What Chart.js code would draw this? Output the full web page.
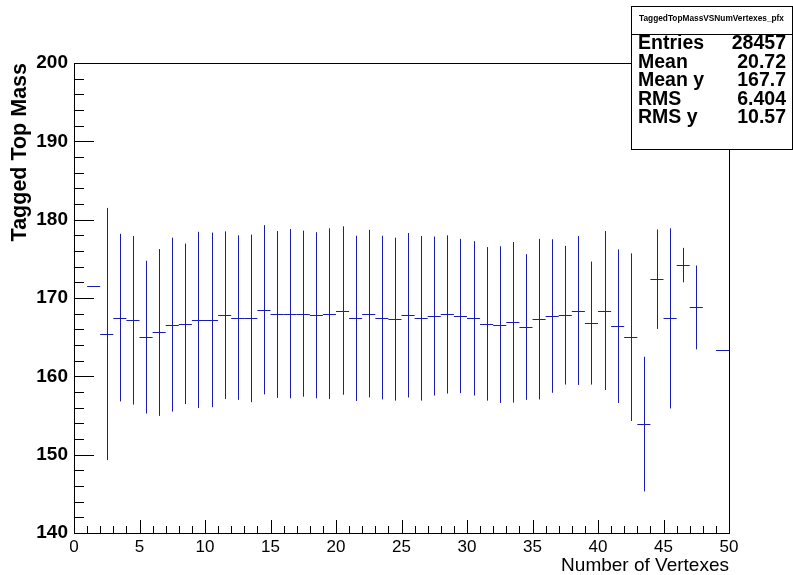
<!DOCTYPE html>
<html>
<head>
<meta charset="utf-8">
<script src="https://cdn.jsdelivr.net/npm/chart.js@4.4.0/dist/chart.umd.min.js"></script>
<style>
  body { margin: 0; background: #fff; }
  #wrap { position: relative; width: 793px; height: 575px; }
</style>
</head>
<body>
<div id="wrap"><canvas id="profChart"></canvas></div>
<script>
// bin centres (number of vertexes), profile means and spreads
const binCenters = [1.5, 2.5, 3.5, 4.5, 5.5, 6.5, 7.5, 8.5, 9.5, 10.5,
    11.5, 12.5, 13.5, 14.5, 15.5, 16.5, 17.5, 18.5, 19.5, 20.5,
    21.5, 22.5, 23.5, 24.5, 25.5, 26.5, 27.5, 28.5, 29.5, 30.5,
    31.5, 32.5, 33.5, 34.5, 35.5, 36.5, 37.5, 38.5, 39.5, 40.5,
    41.5, 42.5, 43.5, 44.5, 45.5, 46.5, 47.5, 48.5, 49.5];
const meanMass = [171.5, 165.4, 167.5, 167.15, 165.0, 165.6, 166.6, 166.7, 167.2, 167.2,
    167.8, 167.5, 167.4, 168.5, 167.9, 168.0, 168.0, 167.8, 168.0, 168.4,
    167.4, 168.0, 167.5, 167.3, 167.8, 167.4, 167.7, 167.9, 167.7, 167.4,
    166.7, 166.6, 166.9, 166.3, 167.3, 167.7, 167.8, 168.4, 166.8, 168.4,
    166.4, 165.0, 153.9, 172.4, 167.4, 174.2, 168.8, null, 163.4];
const spreadMass = [0, 16.1, 10.7, 10.75, 9.75, 10.65, 11.1, 10.25, 11.25, 11.15,
    10.7, 10.5, 10.7, 10.8, 10.65, 10.8, 10.6, 10.6, 10.9, 10.75,
    10.55, 10.7, 10.45, 10.4, 10.5, 10.5, 10.15, 10.1, 9.85, 9.85,
    9.8, 10.0, 10.25, 9.3, 10.25, 9.8, 8.85, 9.5, 7.85, 10.15,
    9.8, 10.7, 8.6, 6.35, 11.5, 2.2, 5.35, null, 0];
const binWidth = 1;

const statLabels = ['Entries', 'Mean', 'Mean y', 'RMS', 'RMS y'];
const statValues = ['28457', '20.72', '167.7', '6.404', '10.57'];
const statTitle = 'TaggedTopMassVSNumVertexes_pfx';

const markColor = '#1a1ab4';

const points = binCenters.map((x, i) => ({ x: x, y: meanMass[i], err: spreadMass[i] }))
    .filter(p => p.y !== null);

// error bars + bin-wide horizontal markers, ROOT style
const profileBars = {
    id: 'profileBars',
    afterDatasetsDraw(chart) {
        const ctx = chart.ctx;
        const xs = chart.scales.x, ys = chart.scales.y;
        const area = chart.chartArea;
        ctx.save();
        ctx.beginPath();
        ctx.rect(area.left, area.top, area.right - area.left, area.bottom - area.top);
        ctx.clip();
        ctx.strokeStyle = markColor;
        ctx.lineWidth = 1;
        chart.data.datasets[0].data.forEach(p => {
            const xc = Math.round(xs.getPixelForValue(p.x)) + 0.5;
            const x0 = xs.getPixelForValue(p.x - binWidth / 2);
            const x1 = xs.getPixelForValue(p.x + binWidth / 2);
            const yc = Math.round(ys.getPixelForValue(p.y)) + 0.5;
            ctx.beginPath();
            ctx.moveTo(x0, yc);
            ctx.lineTo(x1, yc);
            ctx.stroke();
            if (p.err > 0) {
                ctx.beginPath();
                ctx.moveTo(xc, ys.getPixelForValue(p.y + p.err));
                ctx.lineTo(xc, ys.getPixelForValue(p.y - p.err));
                ctx.stroke();
            }
        });
        ctx.restore();
    }
};

// frame, inward ticks and the stats box
const rootFrame = {
    id: 'rootFrame',
    afterDraw(chart) {
        const ctx = chart.ctx;
        const xs = chart.scales.x, ys = chart.scales.y;
        const a = chart.chartArea;
        ctx.save();
        ctx.strokeStyle = '#000';
        ctx.lineWidth = 1;
        ctx.strokeRect(Math.round(a.left) + 0.5, Math.round(a.top) + 0.5,
            Math.round(a.right - a.left), Math.round(a.bottom - a.top));

        ctx.beginPath();
        for (let v = 140; v <= 200; v += 2) {
            const y = Math.round(ys.getPixelForValue(v)) + 0.5;
            const len = v % 10 === 0 ? 20 : 10;
            ctx.moveTo(a.left, y);
            ctx.lineTo(a.left + len, y);
        }
        for (let v = 0; v <= 50; v += 1) {
            const x = Math.round(xs.getPixelForValue(v)) + 0.5;
            const len = v % 5 === 0 ? 13 : 7;
            ctx.moveTo(x, a.bottom);
            ctx.lineTo(x, a.bottom - len);
        }
        ctx.stroke();

        // stats box
        const bx = 631, by = 6, bw = 161, bh = 143;
        ctx.fillStyle = '#fff';
        ctx.fillRect(bx, by, bw, bh);
        ctx.strokeRect(bx + 0.5, by + 0.5, bw, bh);
        ctx.beginPath();
        ctx.moveTo(bx, by + 28.5);
        ctx.lineTo(bx + bw, by + 28.5);
        ctx.stroke();
        ctx.fillStyle = '#000';
        ctx.textBaseline = 'middle';
        ctx.textAlign = 'center';
        ctx.font = 'bold 8.3px "Liberation Sans", Arial, sans-serif';
        ctx.fillText(statTitle, bx + bw / 2, by + 13);
        ctx.font = 'bold 19.5px "Liberation Sans", Arial, sans-serif';
        statLabels.forEach((lab, i) => {
            const y = by + 38 + i * 18.5;
            ctx.textAlign = 'left';
            ctx.fillText(lab, bx + 7, y);
            ctx.textAlign = 'right';
            ctx.fillText(statValues[i], bx + bw - 6, y);
        });
        ctx.restore();
    }
};

new Chart(document.getElementById('profChart'), {
    type: 'scatter',
    data: {
        datasets: [{
            label: 'TaggedTopMassVSNumVertexes_pfx',
            data: points,
            pointRadius: 0,
            showLine: false
        }]
    },
    options: {
        responsive: true,
        maintainAspectRatio: false,
        animation: false,
        layout: { padding: { top: 63, right: 64, left: 0, bottom: 0 } },
        plugins: { legend: { display: false }, tooltip: { enabled: false } },
        scales: {
            x: {
                type: 'linear',
                min: 0,
                max: 50,
                afterFit(scale) { scale.height = 42; },
                grid: { display: false, drawTicks: false },
                border: { display: false },
                ticks: {
                    stepSize: 5,
                    maxRotation: 0,
                    padding: 4,
                    color: '#000',
                    font: { family: '"Liberation Sans", Arial, sans-serif', size: 17 }
                },
                title: {
                    display: true,
                    text: 'Number of Vertexes',
                    align: 'end',
                    color: '#000',
                    padding: { top: -2, bottom: 0 },
                    font: { family: '"Liberation Sans", Arial, sans-serif', size: 19, lineHeight: 1 }
                }
            },
            y: {
                type: 'linear',
                min: 140,
                max: 200,
                afterFit(scale) { scale.width = 74; },
                grid: { display: false, drawTicks: false },
                border: { display: false },
                ticks: {
                    stepSize: 10,
                    padding: 6,
                    color: '#000',
                    font: { family: '"Liberation Sans", Arial, sans-serif', size: 19, weight: 'bold' }
                },
                title: {
                    display: true,
                    text: 'Tagged Top Mass',
                    align: 'end',
                    color: '#000',
                    padding: { top: 9, bottom: 0 },
                    font: { family: '"Liberation Sans", Arial, sans-serif', size: 21.5, weight: 'bold', lineHeight: 1 }
                }
            }
        }
    },
    plugins: [profileBars, rootFrame]
});
</script>
</body>
</html>
